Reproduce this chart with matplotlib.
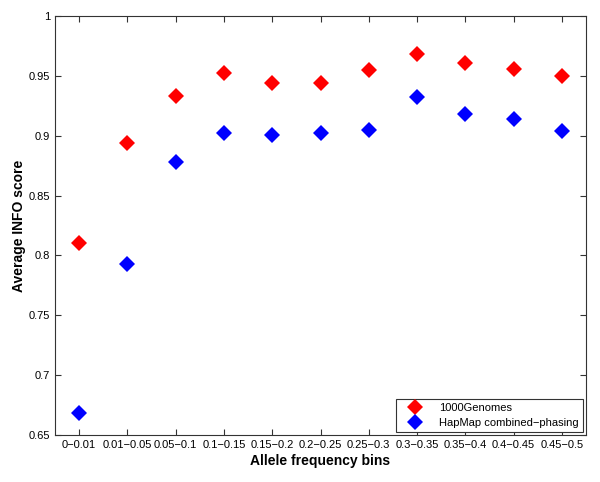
import numpy as np
import matplotlib
matplotlib.use('Agg')
import matplotlib.pyplot as plt

plt.rcParams['font.family'] = ['Liberation Sans', 'DejaVu Sans']

bins = ['0\u22120.01', '0.01\u22120.05', '0.05\u22120.1', '0.1\u22120.15', '0.15\u22120.2',
        '0.2\u22120.25', '0.25\u22120.3', '0.3\u22120.35', '0.35\u22120.4', '0.4\u22120.45',
        '0.45\u22120.5']
genomes_1000 = [0.810, 0.894, 0.933, 0.952, 0.944, 0.944, 0.955, 0.968, 0.961, 0.956, 0.950]
hapmap = [0.668, 0.793, 0.878, 0.902, 0.901, 0.902, 0.905, 0.932, 0.918, 0.914, 0.904]
yticks = [0.65, 0.7, 0.75, 0.8, 0.85, 0.9, 0.95, 1]
ytick_labels = ['0.65', '0.7', '0.75', '0.8', '0.85', '0.9', '0.95', '1']

fig = plt.figure(figsize=(6, 4.82), dpi=100)
ax = fig.add_axes([55/600, 1 - 435/482, (586-55)/600, (435-16)/482])

x = np.arange(1, len(bins) + 1)
ax.plot(x, genomes_1000, 'D', color='#ff0000', markersize=8.5, markeredgewidth=0,
        label='1000Genomes')
ax.plot(x, hapmap, 'D', color='#0000ff', markersize=8.5, markeredgewidth=0,
        label='HapMap combined\u2212phasing')

ax.set_xlim(0.5, 11.5)
ax.set_ylim(0.65, 1)
ax.set_xticks(x)
ax.set_xticklabels(bins, fontsize=8)
ax.set_yticks(yticks)
ax.set_yticklabels(ytick_labels, fontsize=8)
ax.tick_params(direction='in', top=True, right=True, length=4, color='#333333', width=0.8)
for sp in ax.spines.values():
    sp.set_color('#333333')
    sp.set_linewidth(0.8)

ax.set_xlabel('Allele frequency bins', fontsize=10, fontweight='bold', labelpad=3)
ax.set_ylabel('Average INFO score', fontsize=10, fontweight='bold', labelpad=2)

leg = ax.legend(loc='lower right', fontsize=8, fancybox=False, framealpha=1,
                edgecolor='#333333', borderaxespad=0.3, handlelength=2.6,
                handletextpad=0.9, borderpad=0.35, labelspacing=0.4)
leg.get_frame().set_linewidth(0.8)

fig.savefig('out.png', dpi=100)
